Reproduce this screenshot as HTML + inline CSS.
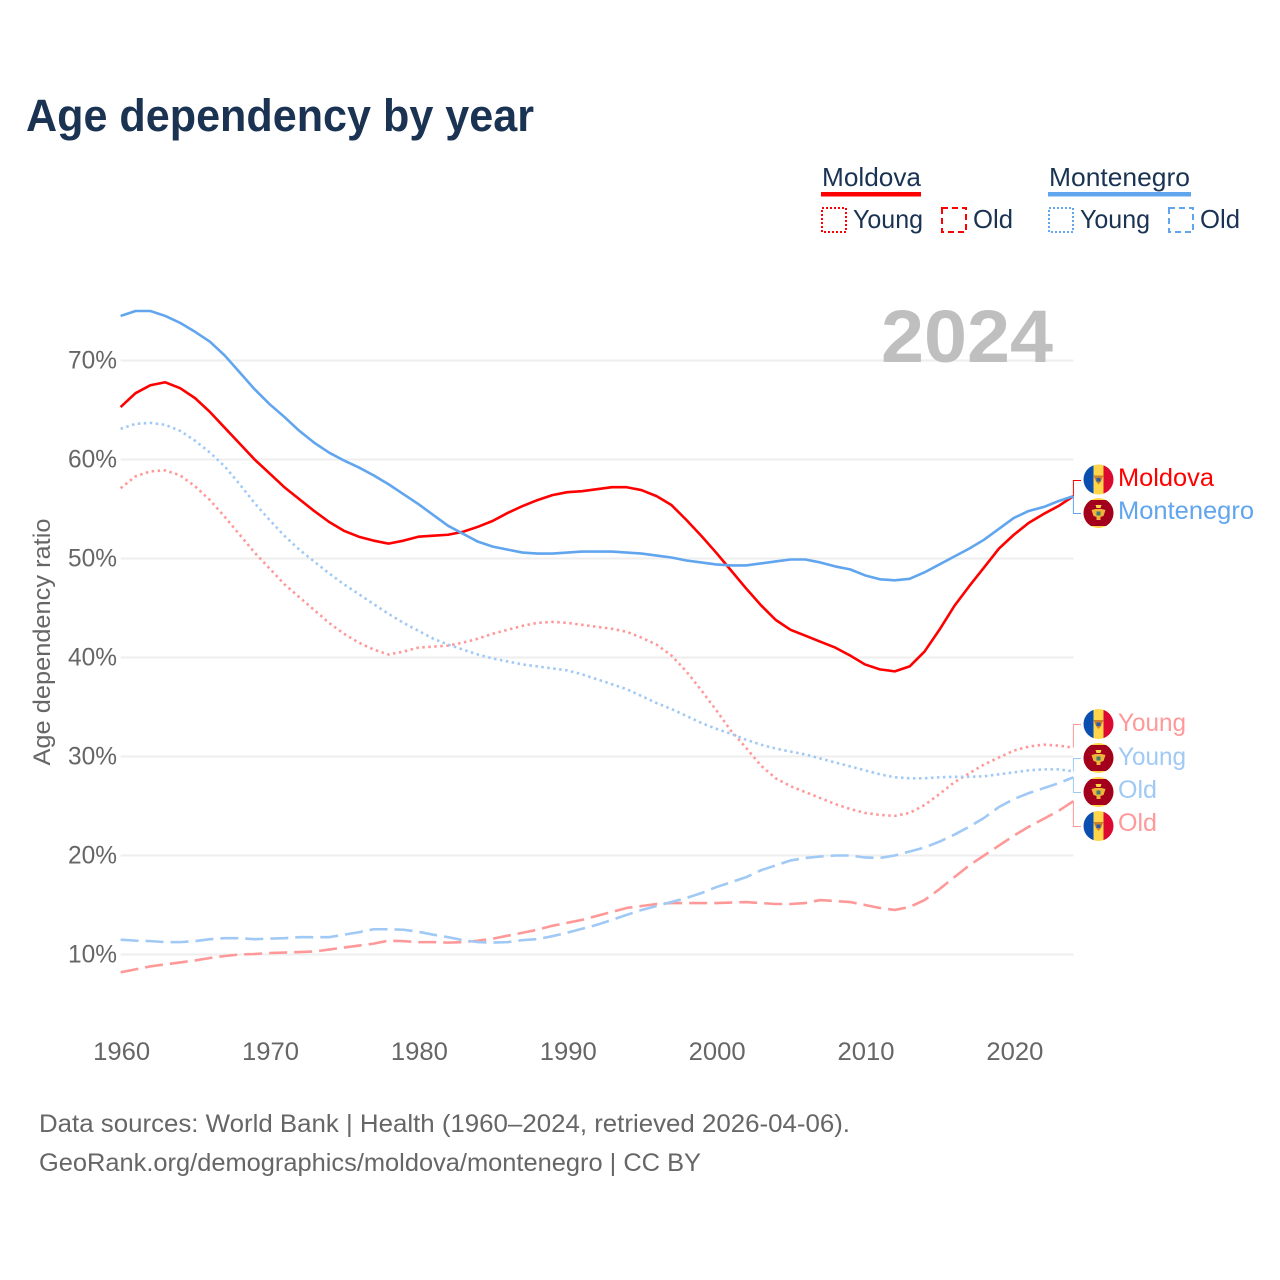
<!DOCTYPE html>
<html lang="en">
<head>
<meta charset="utf-8">
<title>Age dependency by year</title>
<style>
html,body{margin:0;padding:0;background:#fff;}
svg{display:block;font-family:"Liberation Sans",Arial,sans-serif;}
</style>
</head>
<body>
<svg id="chart" width="1280" height="1280" viewBox="0 0 1280 1280" xmlns="http://www.w3.org/2000/svg">
  <rect width="1280" height="1280" fill="#fff"/>
  <text x="26" y="131" font-size="45" font-weight="700" fill="#1a3353" textLength="508" lengthAdjust="spacingAndGlyphs">Age dependency by year</text>

  <g id="grid"></g>
  <g id="ticks"></g>
  <text transform="translate(50,642) rotate(-90)" text-anchor="middle" font-size="24" fill="#666" textLength="247" lengthAdjust="spacingAndGlyphs">Age dependency ratio</text>
  <text x="881" y="362" font-size="74" font-weight="700" fill="#bfbfbf" textLength="172" lengthAdjust="spacingAndGlyphs">2024</text>

  <g id="series"></g>
  <g id="connectors"></g>

  <g font-size="26" fill="#1a3353">
    <g>
      <text x="822" y="186" textLength="99" lengthAdjust="spacingAndGlyphs">Moldova</text>
      <rect x="821" y="192" width="100" height="4.5" fill="#ff0000"/>
    </g>
    <g>
      <rect x="822" y="208" width="24" height="24" fill="none" stroke="#ff0000" stroke-width="2" stroke-dasharray="2 2"/>
      <text x="853" y="228" textLength="70" lengthAdjust="spacingAndGlyphs">Young</text>
    </g>
    <g>
      <rect x="942" y="208" width="24" height="24" fill="none" stroke="#ff0000" stroke-width="2" stroke-dasharray="6 4"/>
      <text x="973" y="228" textLength="40" lengthAdjust="spacingAndGlyphs">Old</text>
    </g>
    <g>
      <text x="1049" y="186" textLength="141" lengthAdjust="spacingAndGlyphs">Montenegro</text>
      <rect x="1048" y="192" width="143" height="4.5" fill="#60a5ee"/>
    </g>
    <g>
      <rect x="1049" y="208" width="24" height="24" fill="none" stroke="#60a5ee" stroke-width="2" stroke-dasharray="2 2"/>
      <text x="1080" y="228" textLength="70" lengthAdjust="spacingAndGlyphs">Young</text>
    </g>
    <g>
      <rect x="1169" y="208" width="24" height="24" fill="none" stroke="#60a5ee" stroke-width="2" stroke-dasharray="6 4"/>
      <text x="1200" y="228" textLength="40" lengthAdjust="spacingAndGlyphs">Old</text>
    </g>
  </g>

  <defs>
    <clipPath id="flagClip"><circle cx="0" cy="0" r="15"/></clipPath>
    <g id="flagMd" clip-path="url(#flagClip)">
      <rect x="-15" y="-15" width="10" height="30" fill="#0a4fb0"/>
      <rect x="-5" y="-15" width="10" height="30" fill="#ffd64a"/>
      <rect x="5" y="-15" width="10" height="30" fill="#dc0a30"/>
      <path d="M-5 -4 L5 -4 L2.5 2 L0 5 L-2.5 2 Z" fill="#c9822e"/>
      <rect x="-2" y="-1.5" width="4" height="3.5" fill="#2a5aa8"/>
    </g>
    <g id="flagMe" clip-path="url(#flagClip)">
      <rect x="-15" y="-15" width="30" height="30" fill="#ffd64a"/>
      <rect x="-15" y="-13" width="30" height="26" fill="#a2001d"/>
      <path d="M-3 -8 L3 -8 L2 -5 L-2 -5 Z" fill="#ffd64a"/>
      <path d="M-7 -3 L-3 -4 L3 -4 L7 -3 L5 3 L2 4 L2 7 L-2 7 L-2 4 L-5 3 Z" fill="#eeb53a"/>
      <rect x="-2" y="-1.5" width="4" height="4" fill="#3f7f6e"/>
    </g>
  </defs>

  <g id="end-labels" font-size="25">
    <use href="#flagMd" x="1098.5" y="479.5"/>
    <text x="1118" y="486" fill="#ff0000" textLength="96" lengthAdjust="spacingAndGlyphs">Moldova</text>
    <use href="#flagMe" x="1098.5" y="513"/>
    <text x="1118" y="519" fill="#60a5ee" textLength="136" lengthAdjust="spacingAndGlyphs">Montenegro</text>
    <use href="#flagMd" x="1098.5" y="724"/>
    <text x="1118" y="731" fill="#ff9999" textLength="68" lengthAdjust="spacingAndGlyphs">Young</text>
    <use href="#flagMe" x="1098.5" y="758"/>
    <text x="1118" y="765" fill="#a0c9f5" textLength="68" lengthAdjust="spacingAndGlyphs">Young</text>
    <use href="#flagMe" x="1098.5" y="792"/>
    <text x="1118" y="798" fill="#a0c9f5" textLength="39" lengthAdjust="spacingAndGlyphs">Old</text>
    <use href="#flagMd" x="1098.5" y="826"/>
    <text x="1118" y="831" fill="#ff9999" textLength="39" lengthAdjust="spacingAndGlyphs">Old</text>
  </g>

  <text x="39" y="1132" font-size="25" fill="#666" textLength="811" lengthAdjust="spacingAndGlyphs">Data sources: World Bank | Health (1960–2024, retrieved 2026-04-06).</text>
  <text x="39" y="1171" font-size="25" fill="#666" textLength="662" lengthAdjust="spacingAndGlyphs">GeoRank.org/demographics/moldova/montenegro | CC BY</text>
</svg>
<script>
var startYear = 1960;
var yTickValues = [10, 20, 30, 40, 50, 60, 70];
var xTickValues = [1960, 1970, 1980, 1990, 2000, 2010, 2020];

var montenegroTotal = [74.5,75.0,75.0,74.5,73.8,72.9,71.9,70.5,68.8,67.1,65.6,64.3,62.9,61.7,60.7,59.9,59.2,58.4,57.5,56.5,55.5,54.4,53.3,52.5,51.7,51.2,50.9,50.6,50.5,50.5,50.6,50.7,50.7,50.7,50.6,50.5,50.3,50.1,49.8,49.6,49.4,49.3,49.3,49.5,49.7,49.9,49.9,49.6,49.2,48.9,48.3,47.9,47.8,47.95,48.6,49.4,50.2,51.0,51.9,53.0,54.1,54.8,55.2,55.8,56.3];
var moldovaTotal = [65.3,66.7,67.5,67.8,67.2,66.2,64.8,63.2,61.6,60.0,58.6,57.2,56.0,54.8,53.7,52.8,52.2,51.8,51.5,51.8,52.2,52.3,52.4,52.7,53.2,53.8,54.6,55.3,55.9,56.4,56.7,56.8,57.0,57.2,57.2,56.9,56.3,55.4,53.9,52.3,50.6,48.8,47.0,45.3,43.8,42.8,42.2,41.6,41.0,40.2,39.3,38.8,38.6,39.1,40.6,42.8,45.2,47.2,49.1,51.0,52.4,53.6,54.5,55.3,56.3];
var moldovaYoung = [57.1,58.3,58.8,58.9,58.4,57.3,55.9,54.2,52.4,50.6,49.0,47.4,46.1,44.8,43.5,42.4,41.5,40.8,40.3,40.6,41.0,41.1,41.2,41.5,41.9,42.4,42.8,43.2,43.5,43.6,43.5,43.3,43.1,42.9,42.6,42.0,41.3,40.2,38.6,36.7,34.7,32.6,30.9,29.1,27.8,27.0,26.4,25.8,25.2,24.7,24.3,24.1,24.0,24.3,25.1,26.2,27.4,28.3,29.2,29.9,30.6,31.0,31.2,31.1,30.9];
var montenegroYoung = [63.1,63.6,63.7,63.5,62.9,61.9,60.7,59.3,57.5,55.6,53.9,52.3,50.9,49.7,48.5,47.4,46.4,45.4,44.4,43.5,42.7,41.9,41.3,40.8,40.3,39.9,39.6,39.3,39.1,38.9,38.7,38.3,37.8,37.3,36.8,36.1,35.4,34.8,34.1,33.4,32.8,32.3,31.7,31.2,30.8,30.5,30.2,29.8,29.4,29.0,28.6,28.2,27.9,27.8,27.8,27.9,27.95,27.95,28.0,28.2,28.4,28.6,28.7,28.7,28.5];
var moldovaOld = [8.2,8.5,8.8,9.0,9.2,9.4,9.65,9.85,10.0,10.05,10.15,10.2,10.25,10.3,10.5,10.7,10.9,11.1,11.4,11.35,11.25,11.25,11.2,11.25,11.4,11.6,11.9,12.2,12.5,12.9,13.2,13.5,13.9,14.3,14.7,14.9,15.1,15.2,15.2,15.2,15.2,15.25,15.3,15.2,15.1,15.1,15.2,15.5,15.4,15.3,15.0,14.7,14.5,14.8,15.5,16.6,17.8,19.0,20.0,21.0,22.0,22.9,23.7,24.5,25.5];
var montenegroOld = [11.5,11.4,11.35,11.25,11.25,11.35,11.55,11.65,11.65,11.55,11.6,11.65,11.75,11.75,11.75,12.0,12.25,12.55,12.55,12.5,12.3,12.0,11.75,11.45,11.25,11.2,11.25,11.45,11.55,11.85,12.2,12.6,13.0,13.5,14.0,14.5,14.9,15.3,15.7,16.2,16.8,17.3,17.8,18.5,19.0,19.5,19.75,19.9,20.0,20.0,19.8,19.75,20.0,20.4,20.8,21.4,22.1,22.9,23.8,24.9,25.7,26.3,26.8,27.3,27.9];

var SVGNS = 'http://www.w3.org/2000/svg';
function xScale(year){ return 120.6 + (year - 1960) * (1073.4 - 120.6) / 64; }
function yScale(v){ return 954.5 - (v - 10) * 9.9; }

function make(tag, attrs, parent){
  var el = document.createElementNS(SVGNS, tag);
  for (var k in attrs) el.setAttribute(k, attrs[k]);
  parent.appendChild(el);
  return el;
}

var gridG = document.getElementById('grid');
var ticksG = document.getElementById('ticks');
yTickValues.forEach(function(v){
  var g = make('line', {x1: xScale(1960), x2: xScale(2024), y1: yScale(v), y2: yScale(v), stroke: '#eeeeee', 'stroke-width': 2}, gridG);
  
  
  var t = make('text', {x: 117, y: yScale(v) + 8, 'text-anchor': 'end', 'font-size': 25, fill: '#666', textLength: 49, lengthAdjust: 'spacingAndGlyphs'}, ticksG);
  
  
  t.textContent = v + '%';
});
xTickValues.forEach(function(y){
  var t = make('text', {x: xScale(y) + 1, y: 1060, 'text-anchor': 'middle', 'font-size': 25, fill: '#666', textLength: 57, lengthAdjust: 'spacingAndGlyphs'}, ticksG);
  
  
  t.textContent = y;
});

function linePath(values){
  return values.map(function(v, i){
    return (i ? 'L' : 'M') + xScale(startYear + i).toFixed(2) + ' ' + yScale(v).toFixed(2);
  }).join(' ');
}

var seriesG = document.getElementById('series');
function drawSeries(values, name, color, dash){
  var attrs = {d: linePath(values), fill: 'none', stroke: color, 'stroke-width': 2.6, 'stroke-linejoin': 'round'};
  if (dash) attrs['stroke-dasharray'] = dash;
  var p = make('path', attrs, seriesG);
  
  
}
drawSeries(moldovaOld, 'line-moldova-old', '#ff9999', '18 7');
drawSeries(montenegroOld, 'line-montenegro-old', '#a0c9f5', '18 7');
drawSeries(moldovaYoung, 'line-moldova-young', '#ff9999', '2.5 3.5');
drawSeries(montenegroYoung, 'line-montenegro-young', '#a0c9f5', '2.5 3.5');
drawSeries(moldovaTotal, 'line-moldova-total', '#ff0000', null);
drawSeries(montenegroTotal, 'line-montenegro-total', '#60a5ee', null);

var connG = document.getElementById('connectors');
function drawConnector(values, labelY, color, name){
  var x0 = xScale(2024);
  var y0 = yScale(values[values.length - 1]);
  var p = make('path', {d: 'M' + x0 + ' ' + y0 + ' V' + labelY + ' H1081', fill: 'none', stroke: color, 'stroke-width': 1}, connG);
  
  
}
drawConnector(moldovaTotal, 480.5, '#ff0000', 'connector-moldova');
drawConnector(montenegroTotal, 513.5, '#60a5ee', 'connector-montenegro');
drawConnector(moldovaYoung, 724.5, '#ff9999', 'connector-moldova-young');
drawConnector(montenegroYoung, 758.5, '#a0c9f5', 'connector-montenegro-young');
drawConnector(montenegroOld, 792.5, '#a0c9f5', 'connector-montenegro-old');
drawConnector(moldovaOld, 826.5, '#ff9999', 'connector-moldova-old');
</script>
</body>
</html>
